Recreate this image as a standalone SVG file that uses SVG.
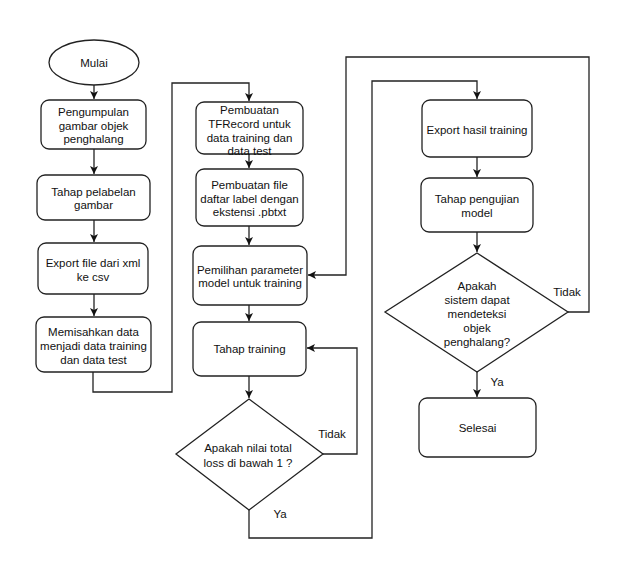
<svg xmlns="http://www.w3.org/2000/svg" width="621" height="566" viewBox="0 0 621 566">
<style>
.n{fill:#fff;stroke:#222;stroke-width:1.3}
.t{font-family:"Liberation Sans",Arial,sans-serif;font-size:11.5px;fill:#111;text-anchor:middle;dominant-baseline:central}
.c{fill:none;stroke:#222;stroke-width:1.3}
</style>
<defs>
<marker id="a" markerUnits="userSpaceOnUse" markerWidth="10" markerHeight="10" refX="8" refY="4" orient="auto">
<path d="M0,0 L8,4 L0,8 L2,4 Z" fill="#111"/>
</marker>
</defs>
<rect width="621" height="566" fill="#fff"/>
<g id="connectors">
<path class="c" d="M94,85 V99" marker-end="url(#a)"/>
<path class="c" d="M94,149 V174" marker-end="url(#a)"/>
<path class="c" d="M94,220 V242" marker-end="url(#a)"/>
<path class="c" d="M94,294 V316" marker-end="url(#a)"/>
<path class="c" d="M93,372 V392 H172 V83 H249 V101" marker-end="url(#a)"/>
<path class="c" d="M249,154 V168" marker-end="url(#a)"/>
<path class="c" d="M249,226 V245" marker-end="url(#a)"/>
<path class="c" d="M249,305 V321" marker-end="url(#a)"/>
<path class="c" d="M249,376 V398" marker-end="url(#a)"/>
<path class="c" d="M323,454 H357 V348 H307" marker-end="url(#a)"/>
<path class="c" d="M249,510 V538 H372 V81 H477 V99" marker-end="url(#a)"/>
<path class="c" d="M477,157 V177" marker-end="url(#a)"/>
<path class="c" d="M477,232 V252" marker-end="url(#a)"/>
<path class="c" d="M477,372 V397" marker-end="url(#a)"/>
<path class="c" d="M568,312 H589 V57 H346 V275 H308" marker-end="url(#a)"/>
<text class="t" x="332" y="434">Tidak</text>
<text class="t" x="280" y="514">Ya</text>
<text class="t" x="567" y="292">Tidak</text>
<text class="t" x="497" y="382">Ya</text>
</g>
<g id="mulai">
<ellipse class="n" cx="94" cy="62.5" rx="45" ry="22.5"/>
<text class="t" x="94" y="62.5">Mulai</text>
</g>
<g id="pengumpulan">
<rect class="n" x="41" y="100" width="105" height="49" rx="8"/>
<text class="t" x="93.5" y="112">Pengumpulan</text>
<text class="t" x="93.5" y="126">gambar objek</text>
<text class="t" x="93.5" y="139">penghalang</text>
</g>
<g id="pelabelan">
<rect class="n" x="37" y="175" width="113" height="45" rx="8"/>
<text class="t" x="93.5" y="192">Tahap pelabelan</text>
<text class="t" x="93.5" y="205">gambar</text>
</g>
<g id="export-csv">
<rect class="n" x="38" y="243" width="110" height="51" rx="8"/>
<text class="t" x="93" y="263">Export file dari xml</text>
<text class="t" x="93" y="277">ke csv</text>
</g>
<g id="memisahkan">
<rect class="n" x="36" y="317" width="115" height="55" rx="8"/>
<text class="t" x="93.5" y="332">Memisahkan data</text>
<text class="t" x="93.5" y="346">menjadi data training</text>
<text class="t" x="93.5" y="360">dan data test</text>
</g>
<g id="tfrecord">
<rect class="n" x="196" y="102" width="107" height="52" rx="8"/>
<text class="t" x="249.5" y="110">Pembuatan</text>
<text class="t" x="249.5" y="123.5">TFRecord untuk</text>
<text class="t" x="249.5" y="137.5">data training dan</text>
<text class="t" x="249.5" y="151">data test</text>
</g>
<g id="pbtxt">
<rect class="n" x="196" y="169" width="107" height="57" rx="8"/>
<text class="t" x="249.5" y="185">Pembuatan file</text>
<text class="t" x="249.5" y="198.5">daftar label dengan</text>
<text class="t" x="249.5" y="212">ekstensi .pbtxt</text>
</g>
<g id="pemilihan">
<rect class="n" x="193" y="246" width="114" height="59" rx="8"/>
<text class="t" x="250" y="270">Pemilihan parameter</text>
<text class="t" x="250" y="283">model untuk training</text>
</g>
<g id="training">
<rect class="n" x="193" y="322" width="113" height="54" rx="8"/>
<text class="t" x="249.5" y="349">Tahap training</text>
</g>
<g id="loss">
<path class="n" d="M249,399 L323,454 L249,510 L176,454 Z"/>
<text class="t" x="248" y="448">Apakah nilai total</text>
<text class="t" x="248" y="463">loss di bawah 1 ?</text>
</g>
<g id="export-hasil">
<rect class="n" x="422" y="100" width="110" height="57" rx="8"/>
<text class="t" x="477" y="130">Export hasil training</text>
</g>
<g id="pengujian">
<rect class="n" x="421" y="178" width="112" height="54" rx="8"/>
<text class="t" x="477" y="199">Tahap pengujian</text>
<text class="t" x="477" y="213">model</text>
</g>
<g id="deteksi">
<path class="n" d="M477,253 L568,312 L477,372 L385,312 Z"/>
<text class="t" x="477" y="286">Apakah</text>
<text class="t" x="477" y="300">sistem dapat</text>
<text class="t" x="477" y="314">mendeteksi</text>
<text class="t" x="477" y="328">objek</text>
<text class="t" x="477" y="342">penghalang?</text>
</g>
<g id="selesai">
<rect class="n" x="419" y="398" width="117" height="59" rx="8"/>
<text class="t" x="477.5" y="428">Selesai</text>
</g>
</svg>
